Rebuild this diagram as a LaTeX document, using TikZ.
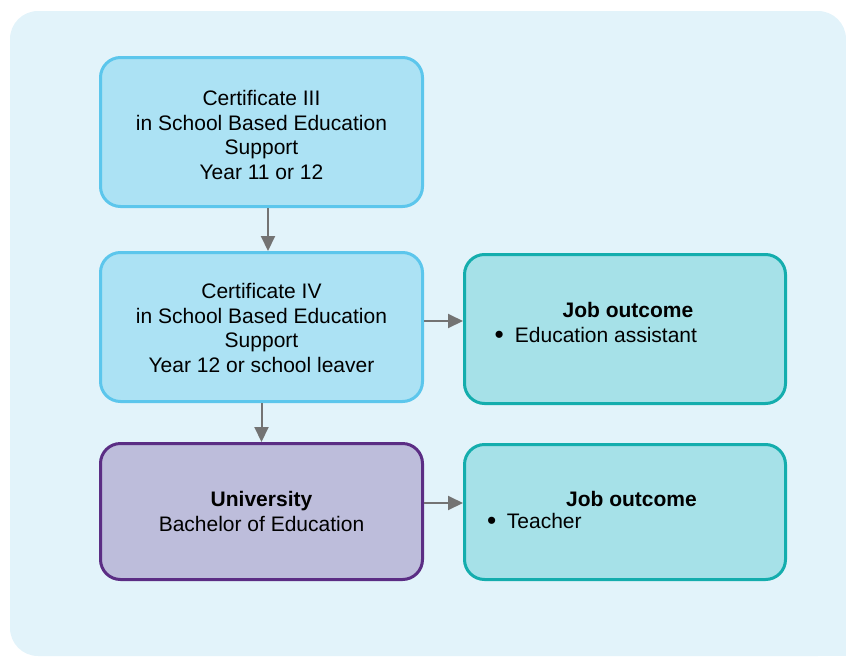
\documentclass[tikz,border=0pt]{standalone}
\usepackage{fontspec}
\setmainfont{Liberation Sans}
\usetikzlibrary{arrows.meta}

\definecolor{panelbg}{HTML}{E2F3FA}
\definecolor{certfill}{HTML}{ACE2F4}
\definecolor{certline}{HTML}{5CC6EC}
\definecolor{jobfill}{HTML}{A6E1E8}
\definecolor{jobline}{HTML}{14ADAD}
\definecolor{unifill}{HTML}{BDBDDB}
\definecolor{uniline}{HTML}{5B2D84}
\definecolor{linkgray}{HTML}{737373}

\newcommand{\jobdot}{\raisebox{-1.5pt}{\scalebox{1.25}{•}}}

\begin{document}
\begin{tikzpicture}[x=1pt,y=-1pt,
  every node/.style={font=\fontsize{21}{24.5}\selectfont},
  certbox/.style={draw=certline, fill=certfill, line width=3pt, rounded corners=20pt,
    minimum width=322pt, minimum height=149pt, align=center, inner sep=0pt},
  jobbox/.style={draw=jobline, fill=jobfill, line width=3pt, rounded corners=20pt,
    minimum width=321pt, minimum height=149pt, inner sep=0pt},
  unibox/.style={draw=uniline, fill=unifill, line width=3pt, rounded corners=20pt,
    minimum width=322pt, minimum height=136pt, align=center, inner sep=0pt},
  link/.style={draw=linkgray, line width=2pt, -{Triangle[length=15pt,width=14pt]}}]
  \useasboundingbox (0,0) rectangle (846,656);
  % panel: bottom right corner runs off the page
  \fill[panelbg, rounded corners=28pt] (10,11) rectangle (846,656);
  \fill[panelbg] (790,600) rectangle (846,656);

  \node[certbox] (cert3) at (261.5,132) {\rule{0pt}{21.5pt}Certificate III\\in School Based Education\\Support\\Year 11 or 12};
  \node[certbox] (cert4) at (261.5,327) {\rule{0pt}{17.5pt}Certificate IV\\in School Based Education\\Support\\Year 12 or school leaver};
  \node[unibox] (uni) at (261.5,511.5) {\textbf{University}\\Bachelor of Education};

  \node[jobbox] (job1) at (625,329) {};
  \node[anchor=base] (job1title) at (628,317) {\bfseries Job outcome};
  \node[anchor=base west, inner sep=0pt] (job1item) at (494.5,342) {\jobdot\hspace{11pt}Education assistant};

  \node[jobbox, minimum height=135pt] (job2) at (625,512) {};
  \node[anchor=base] (job2title) at (631.5,506) {\bfseries Job outcome};
  \node[anchor=base west, inner sep=0pt] (job2item) at (487,528) {\jobdot\hspace{10.5pt}Teacher};

  \draw[link] ([xshift=6.5pt]cert3.south) -- ([xshift=6.5pt]cert4.north);
  \draw[link] (cert4.south) -- (uni.north);
  \draw[link] ([yshift=6pt]cert4.east) -- ([yshift=6pt]cert4.east -| job1.west);
  \draw[link] ([yshift=8.5pt]uni.east) -- ([yshift=8.5pt]uni.east -| job2.west);
\end{tikzpicture}
\end{document}
